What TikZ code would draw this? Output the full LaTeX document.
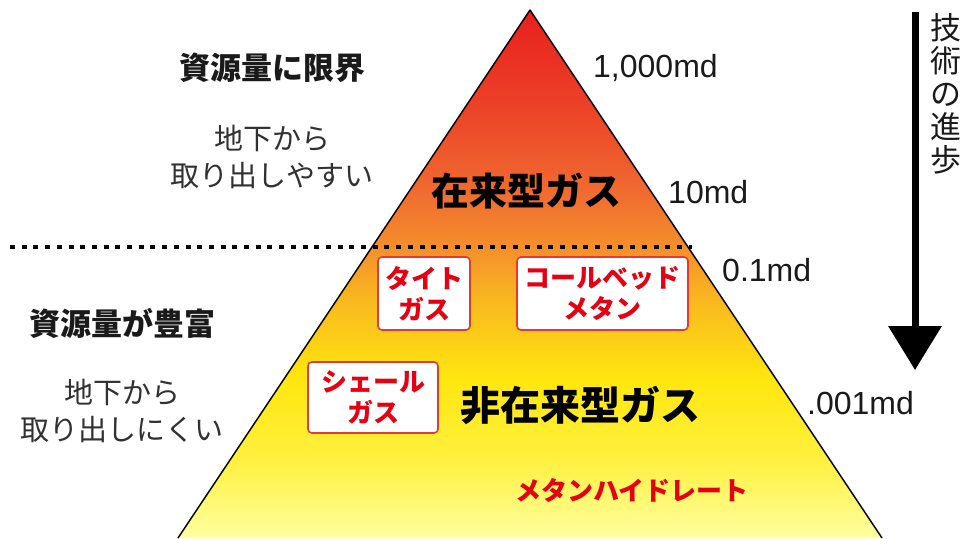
\documentclass[tikz,border=0pt]{standalone}
\usepackage{fontspec}
\setmainfont{Liberation Sans}
\newfontfamily\jp{Noto Sans CJK JP}
\usetikzlibrary{arrows.meta}
\definecolor{cA}{HTML}{E8201E}
\definecolor{cB}{HTML}{EC3F27}
\definecolor{cC}{HTML}{F06A30}
\definecolor{cD}{HTML}{F4912A}
\definecolor{cE}{HTML}{F9B81F}
\definecolor{cF}{HTML}{FFE70F}
\definecolor{cG}{HTML}{FFF040}
\definecolor{cH}{HTML}{FFFFA0}
\definecolor{jred}{HTML}{E60012}
\definecolor{boxred}{HTML}{E53935}
\definecolor{txt}{HTML}{1A1A1A}
\pgfdeclareverticalshading{pyr}{100bp}{color(0bp)=(cH); color(25bp)=(cH); color(32.39bp)=(cG); color(39.96bp)=(cF); color(47.54bp)=(cE); color(52.27bp)=(cD); color(57.95bp)=(cC); color(66.48bp)=(cB); color(75bp)=(cA); color(100bp)=(cA)}
\tikzset{
  head/.style={font=\jp\bfseries\fontsize{31}{31}\selectfont, text=txt, inner sep=0pt},
  sub/.style={font=\jp\fontsize{29}{37}\selectfont, text=txt!90, align=center, inner sep=0pt},
  big/.style={font=\jp\bfseries\fontsize{38}{38}\selectfont, text=black, inner sep=0pt},
  md/.style={font=\fontsize{32}{32}\selectfont, text=txt, inner sep=0pt, anchor=west},
  gasbox/.style={draw=boxred, line width=1.6pt, fill=white, rounded corners=4pt, align=center,
    font=\jp\bfseries\fontsize{26}{31}\selectfont, text=jred, inner sep=0pt},
}
\begin{document}
\begin{tikzpicture}[x=1pt,y=-1pt]
\useasboundingbox (0,0) rectangle (966,538);
\coordinate (apex) at (530,10);
\coordinate (bl) at (178,538);
\coordinate (br) at (882,538);
\shade[shading=pyr] (apex) -- (bl) -- (br) -- cycle;
\draw[line width=1.4pt, line join=round] (bl) -- (apex) -- (br);
% dotted divider
\coordinate (dl) at (10,247);
\coordinate (dr) at (692,247);
\draw[line width=4.5pt, dash pattern=on 5pt off 6.7pt] (dl) -- (dr);
% left texts
\node[head] (lim) at (272,68) {資源量に限界};
\node[sub] (easy) at (272,157) {地下から\\取り出しやすい};
\node[head] (rich) at (122,323) {資源量が豊富};
\node[sub] (hard) at (122,411) {地下から\\取り出しにくい};
% main labels
\node[big] (conv) at (526,191) {在来型ガス};
\node[big, font=\jp\bfseries\fontsize{40}{40}\selectfont] (unconv) at (580,405) {非在来型ガス};
% permeability
\node[md] (p1) at (593,68) {1,000md};
\node[md] (p2) at (668,192) {10md};
\node[md] (p3) at (722,270) {0.1md};
\node[md] (p4) at (807,403) {.001md};
% boxes
\node[gasbox, minimum width=92pt, minimum height=73pt] (tight) at (424,293.5) {タイト\\ガス};
\node[gasbox, minimum width=171pt, minimum height=73pt] (cbm) at (602.5,293.5) {コールベッド\\メタン};
\node[gasbox, minimum width=130pt, minimum height=71pt] (shale) at (373,397.5) {シェール\\ガス};
\node[font=\jp\bfseries\fontsize{26}{26}\selectfont, text=jred, inner sep=0pt] (mh) at (632,490) {メタンハイドレート};
% technology arrow
\coordinate (aS) at (915,12);
\coordinate (aE) at (915,370);
\draw[line width=7pt, -{Triangle[width=52pt,length=44pt]}] (aS) -- (aE);
\node[font=\jp\fontsize{31}{33}\selectfont, text=txt, align=center, inner sep=0pt, anchor=north] (tech) at (946,13) {技\\術\\の\\進\\歩};
\end{tikzpicture}
\end{document}
